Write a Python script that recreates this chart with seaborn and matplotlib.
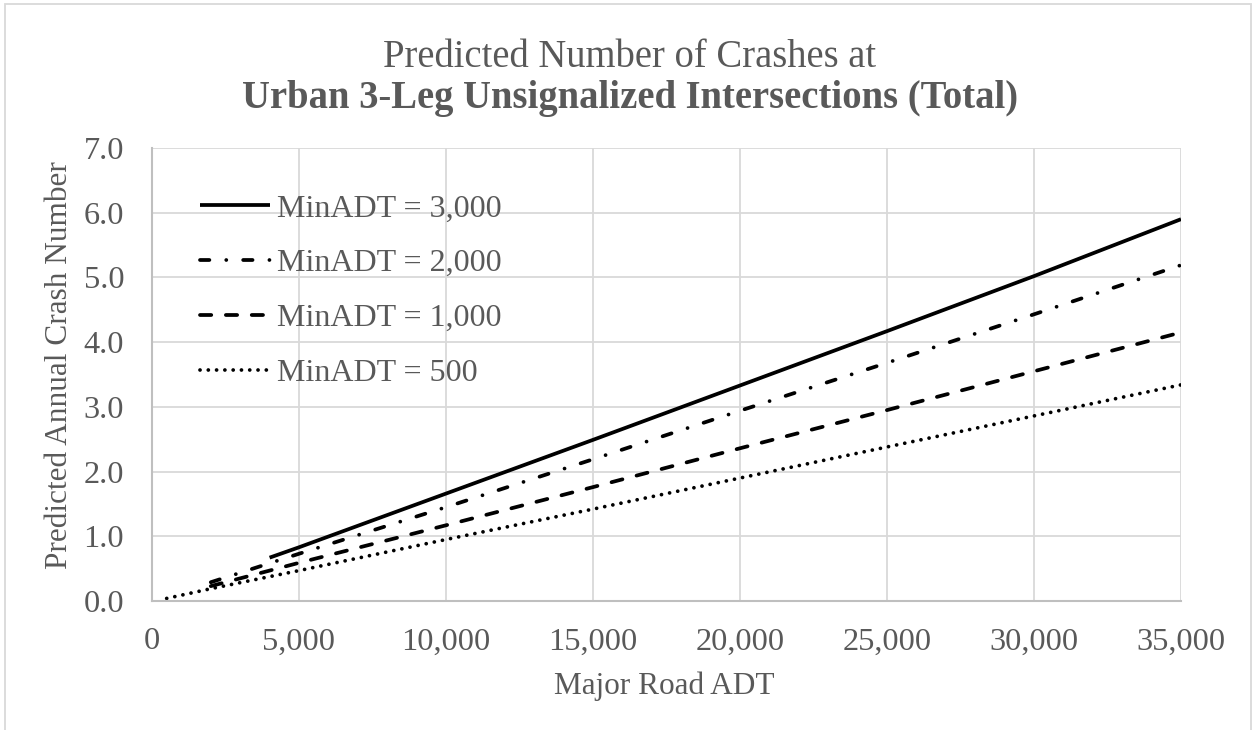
import matplotlib
matplotlib.use("Agg")
import matplotlib.pyplot as plt
import seaborn as sns
import pandas as pd
from matplotlib.patches import Rectangle
from matplotlib.ticker import FuncFormatter

# values
x_3000 = [4000, 5000, 10000, 15000, 20000, 25000, 30000, 35000]
y_3000 = [0.67, 0.83, 1.66, 2.49, 3.33, 4.17, 5.02, 5.90]

x_2000 = [2000, 5000, 10000, 15000, 20000, 25000, 30000, 35000]
y_2000 = [0.29, 0.73, 1.45, 2.19, 2.94, 3.68, 4.43, 5.19]

x_1000 = [2000, 5000, 10000, 15000, 20000, 25000, 30000, 35000]
y_1000 = [0.23, 0.59, 1.17, 1.76, 2.36, 2.95, 3.55, 4.15]

x_500 = [500, 1000, 2000, 5000, 10000, 15000, 20000, 25000, 30000, 35000]
y_500 = [0.04, 0.09, 0.19, 0.47, 0.95, 1.42, 1.90, 2.38, 2.86, 3.34]

labels = ["MinADT = 3,000", "MinADT = 2,000", "MinADT = 1,000", "MinADT = 500"]

sns.set_style("white")
plt.rcParams['font.family'] = ['Liberation Serif', 'DejaVu Serif']
TXT = '#595959'

fig = plt.figure(figsize=(12.54, 7.3), dpi=100)
ax = fig.add_axes([152 / 1254, 1 - 601 / 730, (1181 - 152) / 1254, (601 - 148) / 730])

styles = [
    dict(linestyle='-'),
    dict(linestyle=(0, (2.5, 4.5, 0.01, 4.5))),
    dict(linestyle=(0, (3.0, 3.9))),
    dict(linestyle=(0, (0.01, 2.2))),
]
series = [(x_3000, y_3000), (x_2000, y_2000), (x_1000, y_1000), (x_500, y_500)]

for (xs, ys), lab, st in zip(series, labels, styles):
    df = pd.DataFrame({'adt': xs, 'crashes': ys})
    sns.lineplot(data=df, x='adt', y='crashes', ax=ax, color='black',
                 linewidth=2.7, label=lab, **st)

for ln in ax.get_lines():
    ln.set_dash_capstyle('round')
    ln.set_solid_capstyle('butt')

ax.set_xlim(0, 35000)
ax.set_ylim(0, 7)
ax.set_xticks(range(0, 35001, 5000))
ax.set_yticks([i for i in range(8)])
ax.xaxis.set_major_formatter(FuncFormatter(lambda v, p: f"{int(v):,}"))
ax.yaxis.set_major_formatter(FuncFormatter(lambda v, p: f"{v:.1f}"))
ax.tick_params(axis='both', length=0, labelsize=23.3, colors=TXT)
ax.tick_params(axis='x', pad=19)
ax.tick_params(axis='y', pad=20)
ax.grid(True, color='#d9d9d9', linewidth=1.3)
ax.set_axisbelow(True)
for s in ['top', 'right']:
    ax.spines[s].set_visible(False)
for s in ['left', 'bottom']:
    ax.spines[s].set_color('#bfbfbf')
    ax.spines[s].set_linewidth(1.5)

ax.set_xlabel("Major Road ADT", fontsize=22.5, color=TXT)
ax.set_ylabel("Predicted Annual Crash Number", fontsize=22.5, color=TXT)
ax.xaxis.set_label_coords((664 - 152) / 1029, -(686 - 601) / 453)
ax.yaxis.set_label_coords(-(152 - 60) / 1029, (601 - 365) / 453)
ax.xaxis.label.set_va('center')
ax.yaxis.label.set_va('center')

leg = ax.legend(loc='upper left', bbox_to_anchor=((200 - 152) / 1029, (601 - 194) / 453),
                frameon=False, fontsize=23, handlelength=2.2, handletextpad=0.2,
                labelspacing=0.80, borderaxespad=0, borderpad=0)
for t in leg.get_texts():
    t.set_color(TXT)

fig.text(0.5024, 1 - 67 / 730, "Predicted Number of Crashes at", ha='center', va='baseline',
         fontsize=27.8, color=TXT)
fig.text(0.5024, 1 - 108 / 730, "Urban 3-Leg Unsignalized Intersections (Total)", ha='center',
         va='baseline', fontsize=27.8, color=TXT, fontweight='bold')

fig.patches.append(Rectangle((5 / 1254, -0.1), (1251 - 5) / 1254, 1.1 - 4 / 730,
                             transform=fig.transFigure, fill=False,
                             edgecolor='#d9d9d9', linewidth=1.3))

fig.savefig("out.png", dpi=100)
